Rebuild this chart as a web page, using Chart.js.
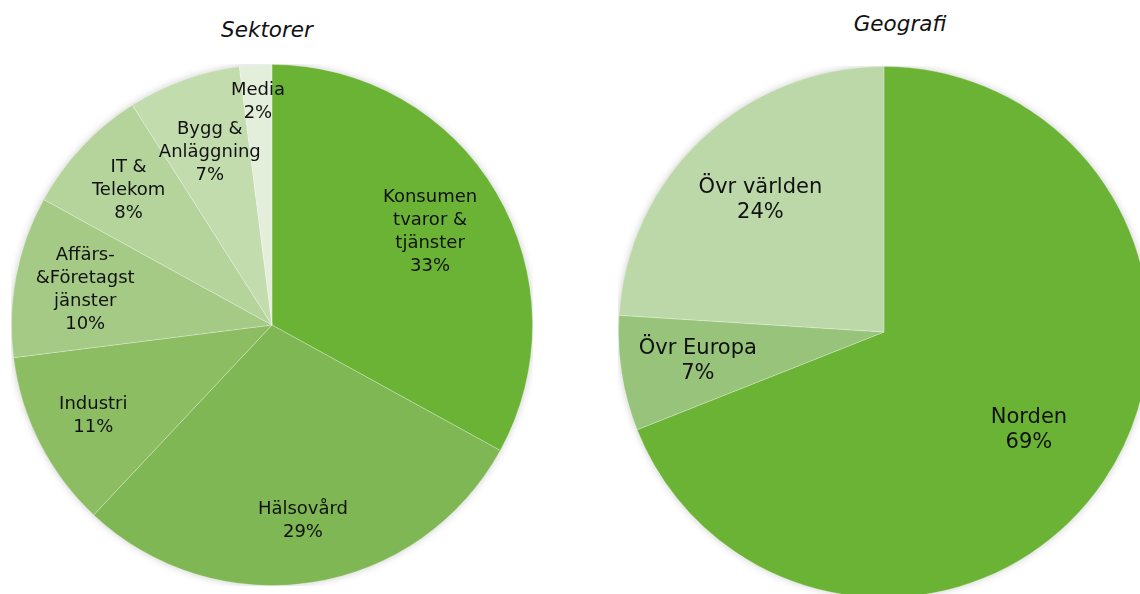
<!DOCTYPE html>
<html lang="sv">
<head>
  <meta charset="UTF-8">
  <title>Sektorer och Geografi</title>
  <script src="https://cdn.jsdelivr.net/npm/chart.js"></script>
  <style>
    body {
      margin: 0;
      width: 1140px;
      height: 594px;
      overflow: hidden;
      background: #fff;
      position: relative;
      font-family: 'DejaVu Sans', Verdana, sans-serif;
    }
    .title {
      position: absolute;
      font-style: italic;
      font-size: 21.5px;
      line-height: 26px;
      color: #111;
      text-align: center;
      width: 200px;
    }
    canvas { position: absolute; }
  </style>
</head>
<body>

<div class="title" style="left:167px; top:17px;">Sektorer</div>
<div class="title" style="left:800px; top:11px;">Geografi</div>

<canvas id="sektorChart" style="left:11px; top:64px;" width="522" height="522"></canvas>
<canvas id="geoChart" style="left:618px; top:66px;" width="532" height="532"></canvas>

<script>
  // sector split, %
  const sektorLabels = [
    ['Konsumen', 'tvaror &', 'tjänster'],
    ['Hälsovård'],
    ['Industri'],
    ['Affärs-', '&Företagst', 'jänster'],
    ['IT &', 'Telekom'],
    ['Bygg &', 'Anläggning'],
    ['Media']
  ];
  const sektorValues = [33, 29, 11, 10, 8, 7, 2];

  // geography split, %
  const geoLabels = [['Norden'], ['Övr Europa'], ['Övr världen']];
  const geoValues = [69, 7, 24];

  const sektorColors = ['#6ab334', '#7fb755', '#8cbd63', '#a5ca86', '#b4d49c', '#c3dcae', '#e3eedb'];
  const geoColors = ['#6ab334', '#97c37a', '#bcd8a9'];

  // draws "name / xx%" inside each slice
  const sliceLabels = {
    id: 'sliceLabels',
    afterDatasetsDraw(chart, args, opts) {
      const ctx = chart.ctx;
      const meta = chart.getDatasetMeta(0);
      const data = chart.data.datasets[0].data;
      ctx.save();
      ctx.font = opts.fontSize + 'px "DejaVu Sans", Verdana, sans-serif';
      ctx.fillStyle = '#111';
      ctx.textAlign = 'center';
      ctx.textBaseline = 'middle';
      meta.data.forEach((arc, i) => {
        const mid = (arc.startAngle + arc.endAngle) / 2;
        const r = arc.outerRadius * opts.radius[i];
        const x = arc.x + Math.cos(mid) * r;
        const y = arc.y + Math.sin(mid) * r;
        const lines = chart.data.labels[i].concat([data[i] + '%']);
        const top = y - (lines.length - 1) * opts.lineHeight / 2;
        lines.forEach((t, j) => ctx.fillText(t, x, top + j * opts.lineHeight));
      });
      ctx.restore();
    }
  };

  // soft grey glow round the pie
  const pieShadow = {
    id: 'pieShadow',
    beforeDatasetsDraw(chart) {
      const arc = chart.getDatasetMeta(0).data[0];
      const ctx = chart.ctx;
      ctx.save();
      ctx.shadowColor = 'rgba(0,0,0,0.25)';
      ctx.shadowBlur = 8;
      ctx.fillStyle = '#fff';
      ctx.beginPath();
      ctx.arc(arc.x, arc.y, arc.outerRadius - 1, 0, Math.PI * 2);
      ctx.fill();
      ctx.restore();
    }
  };

  function makePie(id, labels, values, colors, labelOpts) {
    return new Chart(document.getElementById(id), {
      type: 'pie',
      data: {
        labels: labels,
        datasets: [{
          data: values,
          backgroundColor: colors,
          borderColor: 'rgba(255,255,255,0.25)',
          borderWidth: 1
        }]
      },
      options: {
        responsive: false,
        animation: false,
        layout: { padding: 0 },
        plugins: {
          legend: { display: false },
          tooltip: { enabled: false },
          sliceLabels: labelOpts
        }
      },
      plugins: [pieShadow, sliceLabels]
    });
  }

  makePie('sektorChart', sektorLabels, sektorValues, sektorColors, {
    fontSize: 18,
    lineHeight: 23,
    radius: [0.705, 0.76, 0.77, 0.73, 0.755, 0.705, 0.86]
  });

  makePie('geoChart', geoLabels, geoValues, geoColors, {
    fontSize: 21,
    lineHeight: 25,
    radius: [0.66, 0.71, 0.68]
  });
</script>

</body>
</html>
